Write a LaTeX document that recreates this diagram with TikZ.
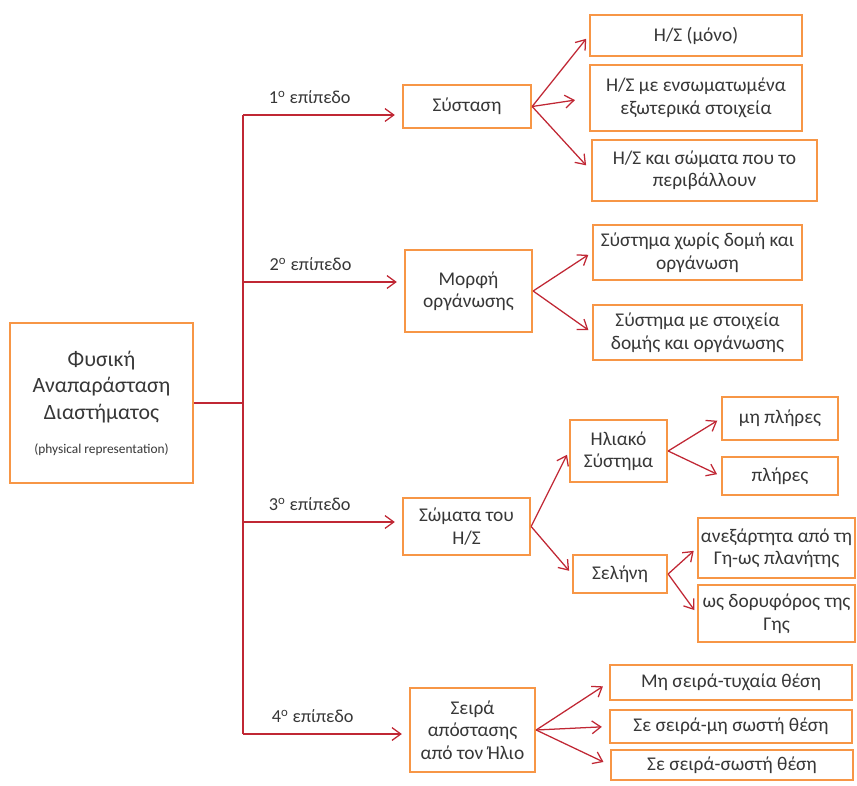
\documentclass[tikz,border=0pt]{standalone}
\usepackage{fontspec}
\setmainfont{Carlito}
\usetikzlibrary{arrows.meta,positioning,calc}
\definecolor{boxorange}{RGB}{247,150,70}
\definecolor{linkred}{RGB}{192,39,52}
\definecolor{textgray}{RGB}{55,55,55}

\begin{document}
\begin{tikzpicture}[x=0.025cm, y=-0.025cm,
  box/.style={draw=boxorange, fill=white, line width=1.6pt, align=center, font=\fontsize{13.8pt}{16pt}\selectfont, text=textgray, inner sep=1pt},
  link/.style={draw=linkred, line width=0.9pt},
  arr/.style={link, -{Straight Barb[length=2.2mm, width=3.2mm]}, shorten >=3pt},
  lvl/.style={anchor=south, pos=0.42, yshift=4pt, font=\fontsize{13pt}{15pt}\selectfont, text=textgray}
]
\useasboundingbox (0,0) rectangle (857,785);

% Root
\node[box, minimum width=4.575cm, minimum height=4cm, font=\fontsize{15.5pt}{19pt}\selectfont] (main) at (101.5,403) {Φυσική\\Αναπαράσταση\\Διαστήματος\\[5pt]{\fontsize{9.5pt}{11pt}\selectfont (physical representation)}};

% Level nodes
\node[box, minimum width=3.2cm, minimum height=1.075cm] (comp) at (467,106.5) {Σύσταση};
\node[box, minimum width=3.175cm, minimum height=2.05cm] (org) at (468.5,291) {Μορφή\\οργάνωσης};
\node[box, minimum width=3.175cm, minimum height=1.425cm] (bod) at (466.5,526.5) {Σώματα του\\Η/Σ};
\node[box, minimum width=3.125cm, minimum height=2.1cm] (ord) at (472.5,730) {Σειρά\\απόστασης\\από τον Ήλιο};

% Level 1 leaves
\node[box, minimum width=5.3cm, minimum height=1.025cm] (c1) at (696,35.5) {Η/Σ (μόνο)};
\node[box, minimum width=5.3cm, minimum height=1.65cm] (c2) at (696,98) {Η/Σ με ενσωματωμένα\\εξωτερικά στοιχεία};
\node[box, minimum width=5.625cm, minimum height=1.525cm] (c3) at (704.5,170.5) {Η/Σ και σώματα που το\\περιβάλλουν};

% Level 2 leaves
\node[box, minimum width=5.225cm, minimum height=1.375cm] (o1) at (697.5,252.5) {Σύστημα χωρίς δομή και\\οργάνωση};
\node[box, minimum width=5.225cm, minimum height=1.375cm] (o2) at (697.5,332.5) {Σύστημα με στοιχεία\\δομής και οργάνωσης};

% Level 3 sub-nodes and leaves
\node[box, minimum width=2.425cm, minimum height=1.55cm] (sun) at (618.5,451) {Ηλιακό\\Σύστημα};
\node[box, minimum width=2.35cm, minimum height=0.95cm] (moon) at (620,574) {Σελήνη};
\node[box, minimum width=2.9cm, minimum height=1.075cm] (s1) at (780,418.5) {μη πλήρες};
\node[box, minimum width=2.9cm, minimum height=0.95cm] (s2) at (780,476) {πλήρες};
\node[box, minimum width=3.925cm, minimum height=1.5cm] (m1) at (776.5,548) {ανεξάρτητα από τη\\Γη-ως πλανήτης};
\node[box, minimum width=3.925cm, minimum height=1.425cm] (m2) at (776.5,613.5) {ως δορυφόρος της\\Γης};

% Level 4 leaves
\node[box, minimum width=6.05cm, minimum height=0.875cm] (r1) at (731,682.5) {Μη σειρά-τυχαία θέση};
\node[box, minimum width=6.05cm, minimum height=0.825cm] (r2) at (731,726.5) {Σε σειρά-μη σωστή θέση};
\node[box, minimum width=6.05cm, minimum height=0.75cm] (r3) at (732,765) {Σε σειρά-σωστή θέση};

% Spine
\coordinate (sp1) at (243,115);
\coordinate (sp2) at (243,282);
\coordinate (sp3) at (243,522);
\coordinate (sp4) at (243,734);
\draw[link] (sp1) -- (sp4);
\draw[link] (main.east) -- (main.east -| sp1);

% Level arrows
\draw[arr, shorten >=5pt] (sp1) -- node[lvl] {1\textsuperscript{ο} επίπεδο} (sp1 -| comp.west);
\draw[arr, shorten >=5pt] (sp2) -- node[lvl] {2\textsuperscript{ο} επίπεδο} (sp2 -| org.west);
\draw[arr, shorten >=5pt] (sp3) -- node[lvl] {3\textsuperscript{ο} επίπεδο} (sp3 -| bod.west);
\draw[arr, shorten >=5pt] (sp4) -- node[lvl] {4\textsuperscript{ο} επίπεδο} (sp4 -| ord.west);

% Composition
\draw[arr] (comp.east) -- (c1.west);
\draw[arr, shorten >=10pt] (comp.east) -- (c2.west);
\draw[arr, shorten >=5pt] (comp.east) -- (c3.west);

% Organisation
\draw[arr] (org.east) -- (o1.west);
\draw[arr] (org.east) -- (o2.west);

% Bodies
\draw[arr] (bod.east) -- (sun.west);
\draw[arr] (bod.east) -- (moon.west);
\draw[arr] (sun.east) -- (s1.west);
\draw[arr] (sun.east) -- (s2.west);
\draw[arr] (moon.east) -- (m1.west);
\draw[arr] (moon.east) -- (m2.west);

% Order
\draw[arr, shorten >=5pt] (ord.east) -- (r1.west);
\draw[arr, shorten >=5pt] (ord.east) -- (r2.west);
\draw[arr, shorten >=5pt] (ord.east) -- (r3.west);

\end{tikzpicture}
\end{document}
